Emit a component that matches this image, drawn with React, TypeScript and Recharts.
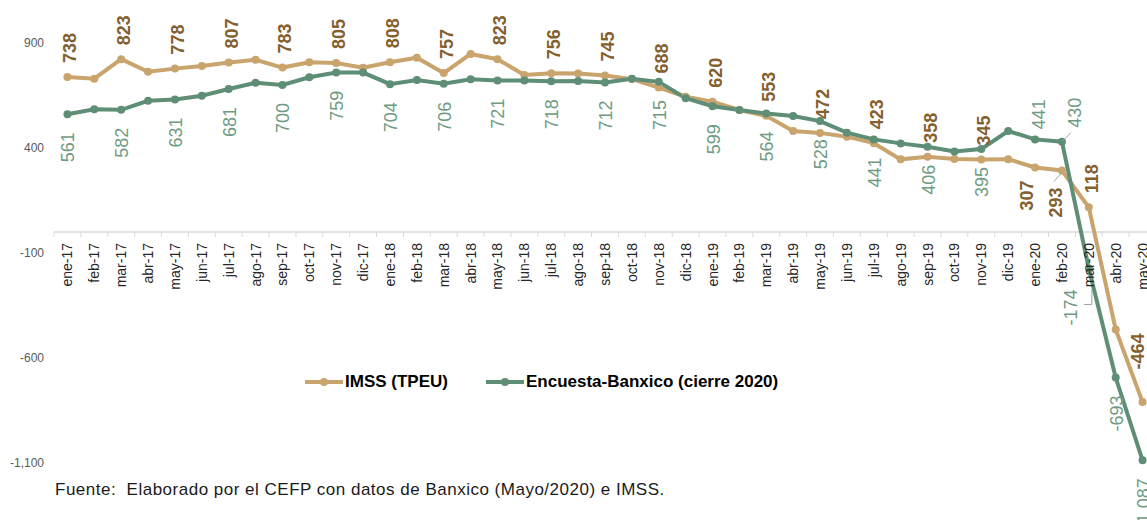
import React from 'react';
import { LineChart, Line, XAxis, YAxis, ReferenceLine, LabelList, Legend } from 'recharts';

// Serie mensual ene-17 .. may-20
const meses = [
  'ene-17', 'feb-17', 'mar-17', 'abr-17', 'may-17', 'jun-17', 'jul-17', 'ago-17', 'sep-17', 'oct-17', 'nov-17', 'dic-17',
  'ene-18', 'feb-18', 'mar-18', 'abr-18', 'may-18', 'jun-18', 'jul-18', 'ago-18', 'sep-18', 'oct-18', 'nov-18', 'dic-18',
  'ene-19', 'feb-19', 'mar-19', 'abr-19', 'may-19', 'jun-19', 'jul-19', 'ago-19', 'sep-19', 'oct-19', 'nov-19', 'dic-19',
  'ene-20', 'feb-20', 'mar-20', 'abr-20', 'may-20',
];

const imss = [
  738, 730, 823, 763, 778, 790, 807, 820, 783, 808, 805, 782,
  808, 830, 757, 848, 823, 748, 756, 755, 745, 728, 688, 644,
  620, 581, 553, 481, 472, 454, 423, 346, 358, 348, 345, 347,
  307, 293, 118, -464, -810,
];

const banxico = [
  561, 584, 582, 625, 631, 649, 681, 711, 700, 737, 759, 759,
  704, 724, 706, 727, 721, 722, 718, 719, 712, 730, 715, 637,
  599, 581, 564, 552, 528, 473, 441, 422, 406, 383, 395, 481,
  441, 430, -174, -693, -1087,
];

const yTicks = [-1100, -600, -100, 400, 900];

const data = meses.map((mes, i) => ({ mes, imss: imss[i], banxico: banxico[i] }));

const CHART_W = 1156;
const CHART_H = 520;
const Y_AXIS_W = 54;
const step = (CHART_W - Y_AXIS_W) / meses.length;

const TAN = '#C9A46D';
const GREEN = '#5F8E76';
const TAN_TEXT = '#84602F';
const GREEN_TEXT = '#6E9B82';
const FONT = "'Liberation Sans', Arial, sans-serif";

const legendOrder = ['IMSS (TPEU)', 'Encuesta-Banxico (cierre 2020)'];

// only every other month carries a label, plus the last few
const showLabel = (i: number) => i % 2 === 0 || i >= 37;
const fmt = (v: number) => v.toLocaleString('en-US');

// vertical text helper: anchor is the point where the text is anchored before rotating
const VText = ({ x, y, anchor, children, fill, bold }: any) => (
  <text
    x={x}
    y={y}
    transform={`rotate(-90, ${x}, ${y})`}
    textAnchor={anchor}
    dominantBaseline="central"
    fontFamily={FONT}
    fontSize={18}
    fontWeight={bold ? 700 : 400}
    fill={fill}
  >
    {children}
  </text>
);

const ImssLabel = (props: any) => {
  const { x, y, value, index } = props;
  if (!showLabel(index)) return null;
  const t = fmt(value);
  if (index === 36) return <VText x={x - 8} y={y + 13} anchor="end" fill={TAN_TEXT} bold>{t}</VText>;
  if (index === 37)
    return (
      <g>
        <line x1={x - 8} y1={y + 11} x2={x} y2={y + 2} stroke="#a6a6a6" />
        <VText x={x - 6} y={y + 17} anchor="end" fill={TAN_TEXT} bold>{t}</VText>
      </g>
    );
  if (index >= 39) return <VText x={x + 22} y={y + 22} anchor="middle" fill={TAN_TEXT} bold>{t}</VText>;
  return <VText x={x + 3} y={y - 14} anchor="start" fill={TAN_TEXT} bold>{t}</VText>;
};

const BanxicoLabel = (props: any) => {
  const { x, y, value, index } = props;
  if (!showLabel(index)) return null;
  const t = fmt(value);
  if (index === 36) return <VText x={x + 4} y={y - 10} anchor="start" fill={GREEN_TEXT}>{t}</VText>;
  if (index === 37)
    return (
      <g>
        <line x1={x + 1} y1={y - 1} x2={x + 9} y2={y - 9} stroke="#a6a6a6" />
        <VText x={x + 13} y={y - 14} anchor="start" fill={GREEN_TEXT}>{t}</VText>
      </g>
    );
  if (index === 38)
    return (
      <g>
        <polyline points={`${x - 5},${y + 36} ${x + 3},${y + 36} ${x + 3},${y + 21}`} fill="none" stroke="#a6a6a6" />
        <VText x={x - 18} y={y + 39} anchor="middle" fill={GREEN_TEXT}>{t}</VText>
      </g>
    );
  return <VText x={x + 1} y={y + 18} anchor="end" fill={GREEN_TEXT}>{t}</VText>;
};

// month names hang under the zero line, with tick marks between months
const MonthLabel = (props: any) => {
  const { x, y, value } = props;
  return (
    <g>
      <line x1={x - step / 2} y1={y} x2={x - step / 2} y2={y + 5} stroke="#d9d9d9" />
      <text
        x={x}
        y={y + 11}
        transform={`rotate(-90, ${x}, ${y + 11})`}
        textAnchor="end"
        dominantBaseline="central"
        fontFamily={FONT}
        fontSize={14}
        fill="#262626"
      >
        {value}
      </text>
    </g>
  );
};

const LegendContent = (props: any) => {
  const items = (props.payload || [])
    .filter((p: any) => p.type !== 'none')
    .sort((a: any, b: any) => legendOrder.indexOf(a.value) - legendOrder.indexOf(b.value));
  return (
    <div style={{ display: 'flex', alignItems: 'center', fontFamily: FONT, fontSize: 17, fontWeight: 700, color: '#000' }}>
      {items.map((p: any, i: number) => (
        <div key={i} style={{ display: 'flex', alignItems: 'center', marginRight: 38 }}>
          <svg width={38} height={10} style={{ marginRight: 2 }}>
            <line x1={0} y1={5} x2={38} y2={5} stroke={p.color} strokeWidth={4} />
            <circle cx={19} cy={5} r={4} fill={p.color} />
          </svg>
          <span>{p.value}</span>
        </div>
      ))}
    </div>
  );
};

const App: React.FC = () => {
  return (
    <div style={{ position: 'absolute', left: 0, top: 0, width: 1147, height: 520, overflow: 'hidden', background: '#fff' }}>
      <LineChart width={CHART_W} height={CHART_H} data={data} margin={{ top: 1, right: 0, left: 0, bottom: 57 }}>
        <XAxis dataKey="mes" hide padding={{ left: step / 2, right: step / 2 }} />
        <YAxis
          width={Y_AXIS_W}
          domain={[-1100, 1100]}
          ticks={yTicks}
          axisLine={false}
          tickLine={false}
          tickSize={0}
          tickMargin={10}
          tickFormatter={(v: number) => v.toLocaleString('en-US')}
          tick={{ fontFamily: FONT, fontSize: 12, fill: '#595959' }}
        />
        <ReferenceLine y={0} stroke="#d9d9d9" strokeWidth={1.5} />
        <Line
          dataKey={() => 0}
          stroke="none"
          dot={false}
          activeDot={false}
          legendType="none"
          isAnimationActive={false}
        >
          <LabelList dataKey="mes" content={MonthLabel} />
        </Line>
        <Line
          dataKey="imss"
          name="IMSS (TPEU)"
          stroke={TAN}
          strokeWidth={4}
          dot={{ r: 4, fill: TAN, stroke: TAN, strokeWidth: 0 }}
          activeDot={false}
          isAnimationActive={false}
        >
          <LabelList dataKey="imss" content={ImssLabel} />
        </Line>
        <Line
          dataKey="banxico"
          name="Encuesta-Banxico (cierre 2020)"
          stroke={GREEN}
          strokeWidth={4}
          dot={{ r: 4, fill: GREEN, stroke: GREEN, strokeWidth: 0 }}
          activeDot={false}
          isAnimationActive={false}
        >
          <LabelList dataKey="banxico" content={BanxicoLabel} />
        </Line>
        <Legend
          content={LegendContent}
          layout="horizontal"
          verticalAlign="middle"
          wrapperStyle={{ left: 305, top: 372, width: 'auto' }}
        />
      </LineChart>
      <div
        style={{
          position: 'absolute',
          left: 55,
          top: 480,
          fontFamily: FONT,
          fontSize: 17,
          letterSpacing: 0.5,
          lineHeight: '20px',
          color: '#1a1a1a',
          whiteSpace: 'pre',
        }}
      >
        {'Fuente:  Elaborado por el CEFP con datos de Banxico (Mayo/2020) e IMSS.'}
      </div>
    </div>
  );
};

export default App;
